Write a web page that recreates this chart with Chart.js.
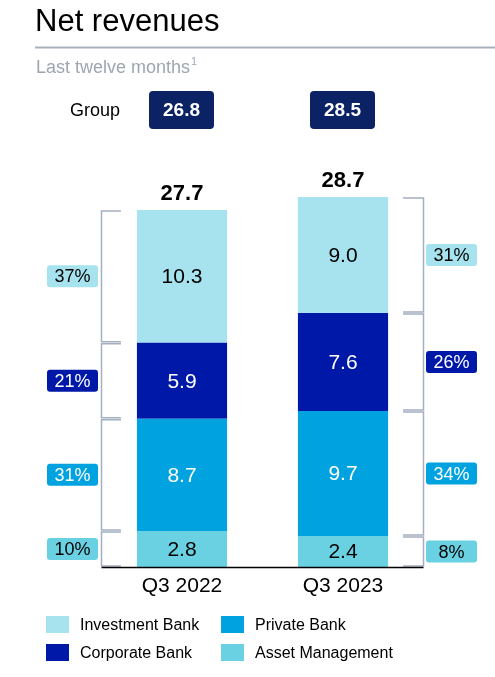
<!DOCTYPE html>
<html>
<head>
<meta charset="utf-8">
<script src="https://cdn.jsdelivr.net/npm/chart.js@4"></script>
<style>
  html, body { margin: 0; padding: 0; background: #fff; }
  #myChart { display: block; }
</style>
</head>
<body>
<canvas id="myChart" width="495" height="677"></canvas>
<script>
const categories = ['Q3 2022', 'Q3 2023'];
const segments = ['Asset Management', 'Private Bank', 'Corporate Bank', 'Investment Bank'];
const assetManagement = [2.8, 2.4];
const privateBank = [8.7, 9.7];
const corporateBank = [5.9, 7.6];
const investmentBank = [10.3, 9.0];
const totals = ['27.7', '28.7'];
const groupValues = ['26.8', '28.5'];
const shareQ3_2022 = ['10%', '31%', '21%', '37%'];
const shareQ3_2023 = ['8%', '34%', '26%', '31%'];
const yTicks = [0, 30];

const colors = {
  'Investment Bank': '#a6e3ef',
  'Corporate Bank': '#0018a8',
  'Private Bank': '#00a3e0',
  'Asset Management': '#6ad1e3'
};
const darkText = { 'Corporate Bank': true, 'Private Bank': true };
const font = '"Liberation Sans", Arial, sans-serif';
const segValues = [assetManagement, privateBank, corporateBank, investmentBank];

const roundRect = (ctx, x, y, w, h, r) => {
  ctx.beginPath();
  ctx.moveTo(x + r, y);
  ctx.arcTo(x + w, y, x + w, y + h, r);
  ctx.arcTo(x + w, y + h, x, y + h, r);
  ctx.arcTo(x, y + h, x, y, r);
  ctx.arcTo(x, y, x + w, y, r);
  ctx.closePath();
};

const decorations = {
  id: 'decorations',
  afterDatasetsDraw(chart) {
    const ctx = chart.ctx;
    const area = chart.chartArea;
    const yScale = chart.scales.y;
    ctx.save();

    // header
    ctx.fillStyle = '#000';
    ctx.font = '31px ' + font;
    ctx.textAlign = 'left';
    ctx.textBaseline = 'alphabetic';
    ctx.fillText('Net revenues', 35, 31);
    ctx.strokeStyle = '#a9b1bd';
    ctx.lineWidth = 2;
    ctx.beginPath();
    ctx.moveTo(35, 47.5);
    ctx.lineTo(495, 47.5);
    ctx.stroke();
    ctx.fillStyle = '#9ea6b0';
    ctx.font = '18px ' + font;
    ctx.fillText('Last twelve months', 36, 72.5);
    const w = ctx.measureText('Last twelve months').width;
    ctx.font = '11px ' + font;
    ctx.fillText('1', 36 + w + 1, 65);

    ctx.fillStyle = '#000';
    ctx.font = '18px ' + font;
    ctx.fillText('Group', 70, 116);

    const base = yScale.getPixelForValue(0);
    categories.forEach((cat, i) => {
      const bar = chart.getDatasetMeta(0).data[i];
      const cx = bar.x;
      const half = bar.width / 2;

      // group box
      ctx.fillStyle = '#0b2265';
      roundRect(ctx, cx - 33, 91, 65, 38, 4);
      ctx.fill();
      ctx.fillStyle = '#fff';
      ctx.font = 'bold 19px ' + font;
      ctx.textAlign = 'center';
      ctx.textBaseline = 'middle';
      ctx.fillText(groupValues[i], cx - 0.5, 111);

      // total
      const topMeta = chart.getDatasetMeta(segments.length - 1).data[i];
      ctx.fillStyle = '#000';
      ctx.font = 'bold 22px ' + font;
      ctx.textBaseline = 'alphabetic';
      ctx.fillText(totals[i], cx, topMeta.y - 10);

      // category label
      ctx.font = '21px ' + font;
      ctx.fillText(cat, cx, 592);

      // values + brackets + shares
      const shares = i === 0 ? shareQ3_2022 : shareQ3_2023;
      segments.forEach((name, s) => {
        const el = chart.getDatasetMeta(s).data[i];
        const top = el.y;
        const bottom = el.base;
        const mid = (top + bottom) / 2;
        ctx.fillStyle = darkText[name] ? '#fff' : '#000';
        ctx.font = '21px ' + font;
        ctx.textAlign = 'center';
        ctx.textBaseline = 'middle';
        ctx.fillText(segValues[s][i].toFixed(1), cx, mid + 1);

        // bracket
        let vx, tx;
        if (i === 0) { vx = area.left; tx = cx - half - 16; }
        else { vx = area.right; tx = cx + half + 15; }
        ctx.strokeStyle = '#a4afc0';
        ctx.lineWidth = 1.5;
        ctx.beginPath();
        ctx.moveTo(tx, top + 1);
        ctx.lineTo(vx, top + 1);
        ctx.lineTo(vx, bottom - 1);
        ctx.lineTo(tx, bottom - 1);
        ctx.stroke();

        // share box
        const bx = i === 0 ? 47 : 426;
        ctx.fillStyle = colors[name];
        roundRect(ctx, bx, mid - 11, 51, 22, 3);
        ctx.fill();
        ctx.fillStyle = darkText[name] ? '#fff' : '#000';
        ctx.font = '18px ' + font;
        ctx.fillText(shares[s], bx + 25.5, mid + 1);
      });
    });

    // baseline
    ctx.strokeStyle = '#000';
    ctx.lineWidth = 1.5;
    ctx.beginPath();
    ctx.moveTo(area.left, base + 0.5);
    ctx.lineTo(area.right, base + 0.5);
    ctx.stroke();

    // legend
    const legendItems = [
      ['Investment Bank', 46, 616],
      ['Private Bank', 221, 616],
      ['Corporate Bank', 46, 644],
      ['Asset Management', 221, 644]
    ];
    ctx.font = '16px ' + font;
    ctx.textAlign = 'left';
    ctx.textBaseline = 'alphabetic';
    legendItems.forEach(([name, x, y]) => {
      ctx.fillStyle = colors[name];
      ctx.fillRect(x, y, 23, 17);
      ctx.fillStyle = '#000';
      ctx.fillText(name, x + 34, y + 14);
    });
    ctx.restore();
  }
};

const ctx = document.getElementById('myChart').getContext('2d');
const myChart = new Chart(ctx, {
  type: 'bar',
  data: {
    labels: categories,
    datasets: segments.map((name, s) => ({
      label: name,
      data: segValues[s],
      backgroundColor: colors[name],
      borderWidth: 0,
      categoryPercentage: 1,
      barPercentage: 0.56
    }))
  },
  options: {
    responsive: false,
    devicePixelRatio: 1,
    animation: false,
    layout: { padding: { left: 101.5, right: 71.5, top: 180.3, bottom: 110 } },
    plugins: { legend: { display: false }, tooltip: { enabled: false } },
    scales: {
      x: { stacked: true, display: false },
      y: { stacked: true, display: false, min: yTicks[0], max: yTicks[1] }
    }
  },
  plugins: [decorations]
});
</script>
</body>
</html>
